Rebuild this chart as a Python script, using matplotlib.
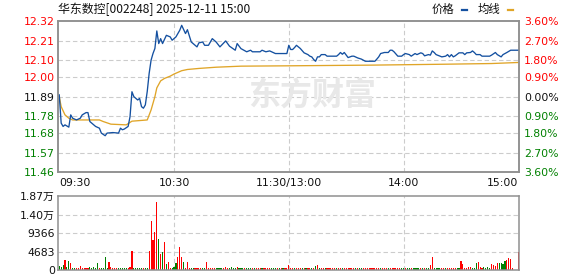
import matplotlib

matplotlib.use("Agg")

import matplotlib.pyplot as plt
from matplotlib.lines import Line2D

TITLE = "华东数控[002248] 2025-12-11 15:00"
PREV_CLOSE = 11.89

# intraday minute index (0 = 09:30, 120 = 11:30/13:00, 240 = 15:00) and price
price_minutes = [
    0, 1, 2, 3, 5, 6, 7, 9, 11, 12, 14, 15, 16, 18, 19, 21, 22, 24, 25, 28,
    31, 32, 33, 34, 36, 37, 38, 39, 41, 42, 43, 44, 45, 46, 47, 48, 49, 50, 51, 52,
    53, 54, 56, 58, 59, 61, 63, 64, 66, 67, 69, 72, 73, 75, 76, 78, 80, 82, 84, 87,
    89, 92, 93, 95, 98, 100, 101, 105, 106, 108, 110, 113, 119, 120, 121, 122, 123, 124, 126, 128,
    130, 131, 132, 133, 134, 135, 136, 137, 139, 140, 145, 146, 147, 148, 149, 150, 151, 153, 154, 156,
    158, 160, 165, 166, 167, 168, 170, 172, 173, 174, 175, 177, 179, 180, 181, 183, 184, 186, 187, 189,
    190, 191, 193, 194, 195, 196, 197, 199, 200, 202, 203, 204, 205, 206, 207, 209, 211, 212, 213, 215,
    216, 217, 218, 220, 221, 225, 226, 228, 229, 231, 232, 233, 234, 236, 240,
]
price_values = [
    11.900, 11.739, 11.720, 11.729, 11.716, 11.786, 11.767, 11.757, 11.767, 11.786,
    11.799, 11.799, 11.748, 11.729, 11.720, 11.710, 11.682, 11.667, 11.682, 11.685,
    11.682, 11.710, 11.701, 11.705, 11.720, 11.776, 11.918, 11.890, 11.871, 11.880,
    11.833, 11.824, 11.843, 11.920, 12.023, 12.098, 12.136, 12.165, 12.265, 12.193,
    12.221, 12.193, 12.240, 12.231, 12.212, 12.231, 12.269, 12.297, 12.250, 12.272,
    12.202, 12.174, 12.197, 12.202, 12.183, 12.183, 12.221, 12.202, 12.174, 12.208,
    12.178, 12.155, 12.193, 12.164, 12.146, 12.155, 12.146, 12.146, 12.155, 12.146,
    12.151, 12.136, 12.136, 12.183, 12.159, 12.159, 12.170, 12.183, 12.165, 12.140,
    12.130, 12.121, 12.117, 12.102, 12.092, 12.117, 12.117, 12.130, 12.130, 12.121,
    12.121, 12.130, 12.142, 12.132, 12.142, 12.127, 12.113, 12.121, 12.121, 12.111,
    12.104, 12.092, 12.092, 12.104, 12.117, 12.136, 12.142, 12.142, 12.155, 12.155,
    12.146, 12.121, 12.121, 12.130, 12.136, 12.130, 12.121, 12.136, 12.130, 12.140,
    12.136, 12.123, 12.130, 12.127, 12.151, 12.142, 12.130, 12.121, 12.117, 12.121,
    12.130, 12.117, 12.130, 12.117, 12.123, 12.140, 12.140, 12.130, 12.140, 12.142,
    12.151, 12.142, 12.130, 12.130, 12.121, 12.121, 12.127, 12.142, 12.130, 12.117,
    12.130, 12.136, 12.142, 12.155, 12.155,
]

avg_minutes = [0, 1, 3, 5, 7, 21, 23, 27, 35, 38, 46, 48, 50, 51, 53, 55, 58, 60, 64, 67,
               73, 82, 95, 120, 164, 201, 226, 240]
avg_values = [11.890, 11.833, 11.786, 11.767, 11.757, 11.757, 11.748, 11.733, 11.729, 11.750,
              11.757, 11.814, 11.890, 11.940, 11.980, 11.994, 12.007, 12.019, 12.038, 12.045,
              12.051, 12.058, 12.064, 12.066, 12.070, 12.075, 12.079, 12.085]

# one bar per minute, 241 bars
volumes = [
    1010, 760, 1265, 2530, 760, 2280, 1770, 400, 400, 400,
    500, 1010, 400, 400, 400, 400, 760, 400, 760, 400,
    1770, 400, 500, 400, 3290, 500, 2020, 760, 500, 500,
    400, 500, 400, 400, 400, 400, 400, 760, 4800, 500,
    400, 400, 400, 400, 400, 400, 500, 4800, 12400, 7590,
    9610, 17200, 7840, 4050, 4550, 7080, 1520, 2020, 400, 400,
    760, 1770, 3290, 5820, 3290, 2020, 400, 2020, 400, 500,
    400, 400, 400, 400, 400, 400, 500, 2020, 400, 400,
    400, 400, 400, 400, 400, 400, 400, 760, 400, 400,
    760, 400, 400, 760, 400, 400, 400, 400, 400, 400,
    400, 400, 400, 400, 400, 400, 400, 400, 400, 400,
    400, 400, 400, 400, 400, 400, 400, 400, 400, 400,
    1350, 400, 400, 400, 400, 400, 400, 400, 400, 400,
    400, 400, 500, 400, 1010, 1265, 400, 400, 400, 400,
    400, 400, 400, 400, 400, 400, 400, 400, 400, 400,
    400, 400, 400, 400, 400, 400, 400, 400, 400, 400,
    400, 400, 400, 400, 400, 400, 400, 400, 400, 400,
    400, 400, 400, 400, 400, 400, 400, 400, 400, 400,
    400, 400, 400, 400, 400, 400, 400, 400, 400, 400,
    400, 400, 400, 400, 1265, 3290, 400, 400, 400, 400,
    400, 400, 400, 400, 400, 400, 400, 400, 400, 400,
    2280, 1520, 400, 400, 760, 760, 400, 400, 1770, 2020,
    760, 400, 760, 400, 760, 500, 1520, 1265, 1010, 1770,
    1770, 1770, 1520, 2280, 2530, 3035, 2780, 500, 0, 0,
    4550,
]
# u = up minute (red bar), d = down minute (green bar), ten per row
direction_rows = [
    "dddudduddu", "uuuuuudddd", "dudddduuuu", "uddddduuud",
    "ddddudduuu", "uudududuud", "dduuuduuud", "duuuudduuu",
    "uudddduuud", "dddudddudd", "duduuuduuu", "udddududuu",
    "uuuduuudud", "uudududuud", "uuuuuduudu", "uuuuududdu",
    "uuuuuuuudu", "uuduuuuuud", "dudduddddu", "dudduudddd",
    "uuduuuuudd", "uuuuuudddu", "uudddduuuu", "dddduuuuuu",
    "u",
]
directions = "".join(direction_rows)

PRICE_TICKS = [11.46, 11.57, 11.68, 11.78, 11.89, 12.00, 12.10, 12.21, 12.32]
PRICE_LABELS = ["11.46", "11.57", "11.68", "11.78", "11.89", "12.00", "12.10", "12.21", "12.32"]
PCT_LABELS = ["3.60%", "2.70%", "1.80%", "0.90%", "0.00%", "0.90%", "1.80%", "2.70%", "3.60%"]
TIME_TICKS = [0, 60, 120, 180, 240]
TIME_LABELS = ["09:30", "10:30", "11:30/13:00", "14:00", "15:00"]
VOL_TICKS = [0, 4683, 9366, 14049, 18732]
VOL_LABELS = ["0", "4683", "9366", "1.40万", "1.87万"]

RED = "#ff0000"
GREEN = "#008000"
BLUE = "#1450a0"
GOLD = "#e0a528"
FRAME = "#909090"
GRID = "#cccccc"
FONT = ["DejaVu Sans", "Noto Sans CJK SC"]
CJK = ["Noto Sans CJK SC", "DejaVu Sans"]

plt.rcParams["font.family"] = FONT

W, H = 578, 276
fig = plt.figure(figsize=(W / 100, H / 100), dpi=100)


def px_axes(left, top, right, bottom):
    return fig.add_axes([left / W, 1 - bottom / H, (right - left) / W, (bottom - top) / H])


def style_frame(ax):
    for sp in ax.spines.values():
        sp.set_color(FRAME)
        sp.set_linewidth(1.1)
    ax.tick_params(length=0)


def level_color(v):
    if v > PREV_CLOSE + 1e-6:
        return RED
    if v < PREV_CLOSE - 1e-6:
        return GREEN
    return "#101010"


grid_kw = dict(color=GRID, linewidth=0.8, linestyle=(0, (4, 2.5)), zorder=0)

# price panel
ax = px_axes(58.3, 21.3, 519.3, 172)
ax.set_xlim(-0.5, 240.5)
ax.set_ylim(PRICE_TICKS[0], PRICE_TICKS[-1])
style_frame(ax)
for v in PRICE_TICKS[1:-1]:
    ax.axhline(v, **grid_kw)
for m in TIME_TICKS[1:-1]:
    ax.axvline(m, **grid_kw)

ax.text(0.55, 0.5, "东方财富", transform=ax.transAxes, ha="center", va="center",
        fontsize=23, fontweight="bold", color="#e8e8e8", family=CJK, zorder=0)

ax.plot(avg_minutes, avg_values, color=GOLD, linewidth=0.95, zorder=2)
ax.plot(price_minutes, price_values, color=BLUE, linewidth=0.95, zorder=3)

ax.set_yticks(PRICE_TICKS)
ax.set_yticklabels(PRICE_LABELS, fontsize=7.8)
for lab, v in zip(ax.get_yticklabels(), PRICE_TICKS):
    lab.set_color(level_color(v))
ax.tick_params(axis="y", pad=2.5)

ax.set_xticks(TIME_TICKS)
ax.set_xticklabels(TIME_LABELS, fontsize=7.8, color="#101010")
ax.tick_params(axis="x", pad=4)
xl = ax.get_xticklabels()
xl[0].set_ha("left")
xl[-1].set_ha("right")

ax2 = ax.twinx()
ax2.set_ylim(ax.get_ylim())
style_frame(ax2)
ax2.set_yticks(PRICE_TICKS)
ax2.set_yticklabels(PCT_LABELS, fontsize=7.8)
for lab, v in zip(ax2.get_yticklabels(), PRICE_TICKS):
    lab.set_color(level_color(v))
ax2.tick_params(axis="y", pad=3.5)

# volume panel
vax = px_axes(58.3, 196, 519.3, 270)
vax.set_xlim(-0.5, 240.5)
vax.set_ylim(VOL_TICKS[0], VOL_TICKS[-1])
style_frame(vax)
for v in VOL_TICKS[1:-1]:
    vax.axhline(v, **grid_kw)
for m in TIME_TICKS[1:-1]:
    vax.axvline(m, **grid_kw)
bar_colors = [RED if d == "u" else GREEN for d in directions]
vax.bar(range(len(volumes)), volumes, width=0.6, color=bar_colors, linewidth=0,
        antialiased=False, zorder=2)
vax.set_xticks([])
vax.set_yticks(VOL_TICKS)
vax.set_yticklabels(VOL_LABELS, fontsize=7.8, color="#101010")
vax.tick_params(axis="y", pad=2.5)

# title and legend
fig.text(58 / W, 1 - 9 / H, TITLE, ha="left", va="center", fontsize=8.6, family=CJK, color="#101010")
fig.text(432 / W, 1 - 9 / H, "价格", ha="left", va="center", fontsize=8.2, family=CJK, color="#101010")
fig.text(477.5 / W, 1 - 9 / H, "均线", ha="left", va="center", fontsize=8.2, family=CJK, color="#101010")
fig.add_artist(Line2D([462 / W, 467 / W], [1 - 10 / H, 1 - 10 / H], color=BLUE, linewidth=1.6,
                      transform=fig.transFigure))
fig.add_artist(Line2D([508 / W, 513 / W], [1 - 10 / H, 1 - 10 / H], color=GOLD, linewidth=1.6,
                      transform=fig.transFigure))

fig.savefig("out.png", dpi=100)
